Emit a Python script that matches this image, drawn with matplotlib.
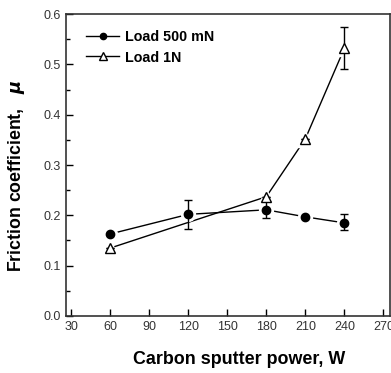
import matplotlib.pyplot as plt
import numpy as np

plt.rcParams['font.family'] = ['Liberation Sans', 'DejaVu Sans']

power_500 = [60, 120, 180, 210, 240]
mu_500 = [0.163, 0.202, 0.211, 0.197, 0.185]
err_500_lo = [0.0, 0.029, 0.016, 0.0, 0.015]
err_500_hi = [0.0, 0.028, 0.017, 0.0, 0.017]

power_1n = [60, 180, 210, 240]
mu_1n = [0.135, 0.237, 0.352, 0.532]
err_1n_lo = [0.0, 0.0, 0.0, 0.042]
err_1n_hi = [0.0, 0.0, 0.0, 0.042]

fig = plt.figure(figsize=(3.91, 3.73), dpi=100)
ax = fig.add_axes([0.169, 0.153, 0.828, 0.809])

# lines first, then white halos so the lines stop short of the markers
ax.plot(power_500, mu_500, color='black', lw=1.0, zorder=1)
ax.plot(power_1n, mu_1n, color='black', lw=1.0, zorder=1)
ax.plot(power_500, mu_500, 'o', ms=10, color='white', mec='white', zorder=2)
ax.plot(power_1n, mu_1n, '^', ms=11, color='white', mec='white', zorder=2)

ax.errorbar(power_500, mu_500, yerr=[err_500_lo, err_500_hi], fmt='none',
            ecolor='black', elinewidth=1.0, capsize=3, capthick=1.0, zorder=3)
ax.errorbar(power_1n, mu_1n, yerr=[err_1n_lo, err_1n_hi], fmt='none',
            ecolor='black', elinewidth=1.0, capsize=3, capthick=1.0, zorder=3)

ax.plot(power_500, mu_500, 'o', ms=6, color='black', zorder=4)
ax.plot(power_1n, mu_1n, '^', ms=6.5, mfc='white', mec='black', mew=1.0, zorder=4)

# legend handles
ax.plot([], [], '-o', color='black', ms=4.5, lw=1.0, label='Load 500 mN')
ax.plot([], [], '-^', color='black', mfc='white', ms=5.5, lw=1.0, label='Load 1N')
leg = ax.legend(loc='upper left', frameon=False, fontsize=10.3, handlelength=2.3,
                borderaxespad=0.5, handletextpad=0.4, labelspacing=0.45,
                bbox_to_anchor=(0.022, 0.99))
for t in leg.get_texts():
    t.set_fontweight('bold')

ax.set_xlim(26, 275)
ax.set_ylim(0, 0.6)
ax.set_xticks(np.arange(30, 271, 30))
ax.set_yticks(np.arange(0, 0.61, 0.1))
ax.set_yticks(np.arange(0.05, 0.6, 0.1), minor=True)
ax.yaxis.set_major_formatter(plt.FormatStrFormatter('%.1f'))
ax.tick_params(direction='in', labelsize=9, colors='black', labelcolor='#333333',
               length=5, width=1.0, pad=4)
ax.tick_params(which='minor', direction='in', length=3, width=1.0)
for s in ax.spines.values():
    s.set_linewidth(1.2)
    s.set_color('#333333')

ax.set_xlabel('Carbon sputter power, W', fontsize=12.9, fontweight='bold')
ax.xaxis.set_label_coords(0.535, -0.115)
ax.set_ylabel(r'Friction coefficient,   $\boldsymbol{\mu}$', fontsize=12.8,
              fontweight='bold')
ax.yaxis.set_label_coords(-0.12, 0.465)

fig.savefig('out.png', dpi=100)
